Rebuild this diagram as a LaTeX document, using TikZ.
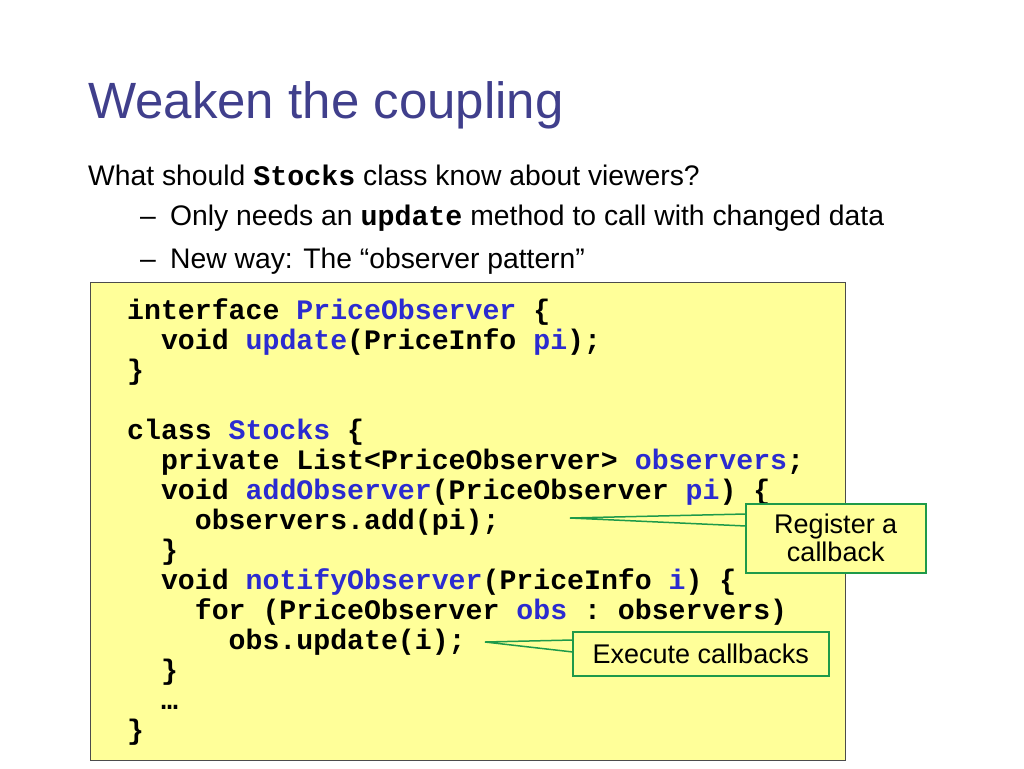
\documentclass[tikz,border=0pt]{standalone}
\usepackage{fontspec}
\setmainfont{Liberation Sans}
\setmonofont{Liberation Mono}
\definecolor{ttl}{HTML}{403F8C}
\definecolor{kw}{HTML}{2B2BD0}
\definecolor{codebg}{HTML}{FFFF99}
\definecolor{cgreen}{HTML}{1E9A4A}
\newcommand{\K}[1]{\textcolor{kw}{#1}}
\begin{document}
\begin{tikzpicture}[x=1pt,y=-1pt,
  code/.style={anchor=base west,inner sep=0pt,font=\fontsize{28.2}{30}\selectfont\ttfamily\bfseries},
  body/.style={anchor=base west,inner sep=0pt,font=\fontsize{28.3}{32}\selectfont},
  callout/.style={draw=cgreen,line width=1.5pt,fill=codebg,align=center,inner sep=0pt,font=\fontsize{27}{34}\selectfont}]
\useasboundingbox (0,0) rectangle (1024,768);
\node[anchor=base west,inner sep=0pt,text=ttl,font=\fontsize{51}{56}\selectfont] (title) at (88,118) {Weaken the coupling};
\node[body] (b1) at (88,185) {What should \texttt{\bfseries Stocks} class know about viewers?};
\node[body] (d1) at (140,225) {–};
\node[body] (b2) at (170,225) {Only needs an \texttt{\bfseries update} method to call with changed data};
\node[body] (d2) at (140,268) {–};
\node[body] (b3) at (170,268) {New way: The “observer pattern”};
\node[draw=black!70,fill=codebg,line width=0.8pt,minimum width=755pt,minimum height=478pt,anchor=north west,inner sep=0pt] (box) at (90,282) {};
\node[code] (c1) at (127,319) {interface \K{PriceObserver} \{};
\node[code] (c2) at (127,349) {\ \ void \K{update}(PriceInfo \K{pi});};
\node[code] (c3) at (127,379) {\}};
\node[code] (c5) at (127,439) {class \K{Stocks} \{};
\node[code] (c6) at (127,469) {\ \ private List<PriceObserver> \K{observers};};
\node[code] (c7) at (127,499) {\ \ void \K{addObserver}(PriceObserver \K{pi}) \{};
\node[code] (c8) at (127,529) {\ \ \ \ observers.add(pi);};
\node[code] (c9) at (127,559) {\ \ \}};
\node[code] (c10) at (127,589) {\ \ void \K{notifyObserver}(PriceInfo \K{i}) \{};
\node[code] (c11) at (127,619) {\ \ \ \ for (PriceObserver \K{obs} : observers)};
\node[code] (c12) at (127,649) {\ \ \ \ \ \ obs.update(i);};
\node[code] (c13) at (127,679) {\ \ \}};
\node[code] (c14) at (127,709) {\ \ …};
\node[code] (c15) at (127,739) {\}};
\coordinate (p1) at (570,518);
\coordinate (p2) at (485,642);
\fill[codebg,draw=cgreen,line width=1.5pt] (p1) -- (746,514) -- (746,526) -- cycle;
\fill[codebg,draw=cgreen,line width=1.5pt] (p2) -- (573,640) -- (573,652) -- cycle;
\node[callout,minimum width=180pt,minimum height=69pt,anchor=north west] (r1) at (745,503) {Register a\\[-6pt]callback};
\node[callout,minimum width=256pt,minimum height=44pt,anchor=north west] (r2) at (572,631) {Execute callbacks};
\end{tikzpicture}
\end{document}
